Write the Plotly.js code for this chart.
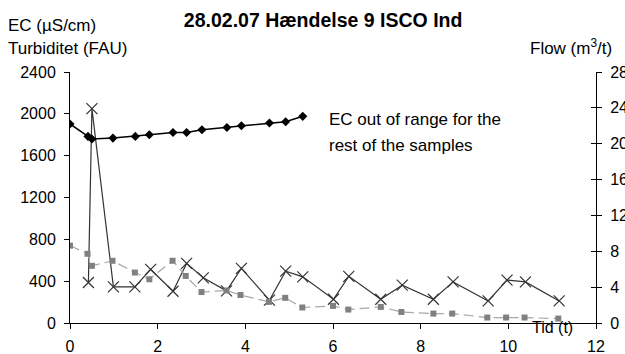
<!DOCTYPE html>
<html>
<head>
<meta charset="utf-8">
<script src="https://cdn.plot.ly/plotly-3.0.1.min.js"></script>
<style>html,body{margin:0;padding:0;background:#fff;}#chart{width:625px;height:354px;}</style>
</head>
<body>
<div id="chart"></div>
<script>
// EC (µS/cm), left axis
var ecTime = [0, 0.41, 0.5, 0.98, 1.49, 1.81, 2.35, 2.66, 3.01, 3.58, 3.91, 4.55, 4.92, 5.31];
var ecValues = [1903, 1784, 1759, 1768, 1784, 1800, 1822, 1822, 1848, 1870, 1886, 1912, 1925, 1976];

// Turbiditet (FAU), left axis
var turbTime = [0.42, 0.5, 0.99, 1.48, 1.84, 2.35, 2.66, 3.04, 3.57, 3.91, 4.55, 4.92, 5.31, 6.01, 6.36, 7.09, 7.58, 8.29, 8.74, 9.54, 9.97, 10.39, 11.16];
var turbValues = [387, 2050, 345, 345, 512, 304, 570, 432, 307, 522, 218, 496, 441, 227, 446, 227, 362, 227, 393, 211, 410, 393, 211];

// Flow (m3/t), right axis
var flowTime = [0, 0.40, 0.5, 0.97, 1.48, 1.81, 2.34, 2.64, 3.0, 3.57, 3.89, 4.54, 4.91, 5.30, 6.0, 6.35, 7.09, 7.56, 8.29, 8.72, 9.52, 9.95, 10.37, 11.14];
var flowValues = [8.63, 7.72, 6.38, 6.94, 5.63, 4.88, 6.94, 5.25, 3.45, 3.63, 3.12, 2.36, 2.81, 1.73, 1.91, 1.50, 1.79, 1.23, 1.05, 1.05, 0.61, 0.61, 0.61, 0.49];

var xTicks = [0, 2, 4, 6, 8, 10, 12];
var leftTicks = [0, 400, 800, 1200, 1600, 2000, 2400];
var rightTicks = [0, 4, 8, 12, 16, 20, 24, 28];

var FONT = '"Liberation Sans", Arial, sans-serif';

var traces = [
  {
    x: flowTime, y: flowValues, yaxis: 'y2', type: 'scatter', mode: 'lines+markers',
    line: {color: '#a8a8a8', width: 1.2, dash: '10px,5px'},
    marker: {symbol: 'square', size: 6, color: '#808080'},
    name: 'Flow', showlegend: false
  },
  {
    x: turbTime, y: turbValues, type: 'scatter', mode: 'lines+markers',
    line: {color: '#333333', width: 1.2},
    marker: {symbol: 'x-thin-open', size: 11, color: '#333333', line: {color: '#333333', width: 1.2}},
    name: 'Turbiditet', showlegend: false
  },
  {
    x: ecTime, y: ecValues, type: 'scatter', mode: 'lines+markers',
    line: {color: '#000000', width: 1.5},
    marker: {symbol: 'diamond', size: 7, color: '#000000'},
    name: 'EC', showlegend: false
  }
];

var layout = {
  width: 625, height: 354,
  margin: {l: 70, r: 29, t: 72, b: 31, pad: 0},
  paper_bgcolor: '#ffffff', plot_bgcolor: '#ffffff',
  font: {family: FONT, size: 16, color: '#000'},
  showlegend: false,
  title: {
    text: '<b>28.02.07 Hændelse 9 ISCO Ind</b>',
    font: {family: FONT, size: 19.5, color: '#000'},
    x: 0.517, xanchor: 'center', y: 0.9435, yanchor: 'middle'
  },
  xaxis: {
    range: [0, 12], tickvals: xTicks, ticktext: xTicks.map(String),
    ticks: 'outside', ticklen: 5, tickcolor: '#000', tickwidth: 1,
    ticklabelstandoff: 4,
    showline: true, linecolor: '#000', linewidth: 1,
    showgrid: false, zeroline: false,
    tickfont: {family: FONT, size: 16}
  },
  yaxis: {
    range: [0, 2400], tickvals: leftTicks, ticktext: leftTicks.map(String),
    ticks: 'outside', ticklen: 5, tickcolor: '#000', tickwidth: 1,
    ticklabelstandoff: 5,
    showline: true, linecolor: '#000', linewidth: 1,
    showgrid: false, zeroline: false,
    tickfont: {family: FONT, size: 16}
  },
  yaxis2: {
    range: [0, 28], tickvals: rightTicks, ticktext: rightTicks.map(String),
    overlaying: 'y', side: 'right',
    ticks: 'outside', ticklen: 5, tickcolor: '#000', tickwidth: 1,
    ticklabelstandoff: 5,
    showline: true, linecolor: '#000', linewidth: 1,
    showgrid: false, zeroline: false,
    tickfont: {family: FONT, size: 16}
  },
  yaxis3: {
    range: [0, 28], tickvals: rightTicks,
    overlaying: 'y', side: 'right',
    ticks: 'inside', ticklen: 5, tickcolor: '#000', tickwidth: 1,
    showticklabels: false, showline: false,
    showgrid: false, zeroline: false
  },
  annotations: [
    {text: 'EC (µS/cm)', xref: 'paper', yref: 'paper', x: -0.121, y: 1.187,
     xanchor: 'left', yanchor: 'middle', showarrow: false, font: {family: FONT, size: 17}},
    {text: 'Turbiditet (FAU)', xref: 'paper', yref: 'paper', x: -0.121, y: 1.092,
     xanchor: 'left', yanchor: 'middle', showarrow: false, font: {family: FONT, size: 17}},
    {text: 'Flow (m<sup>3</sup>/t)', xref: 'paper', yref: 'paper', x: 1.034, y: 1.10,
     xanchor: 'right', yanchor: 'middle', showarrow: false, font: {family: FONT, size: 17}},
    {text: 'EC out of range for the', xref: 'paper', yref: 'paper', x: 0.489, y: 0.809,
     xanchor: 'left', yanchor: 'middle', showarrow: false, font: {family: FONT, size: 17}},
    {text: 'rest of the samples', xref: 'paper', yref: 'paper', x: 0.489, y: 0.709,
     xanchor: 'left', yanchor: 'middle', showarrow: false, font: {family: FONT, size: 17}},
    {text: 'Tid (t)', xref: 'paper', yref: 'paper', x: 0.917, y: -0.016,
     xanchor: 'center', yanchor: 'middle', showarrow: false, font: {family: FONT, size: 16}}
  ]
};

// invisible trace to activate yaxis3 (cross ticks on the right axis)
traces.push({x: [0], y: [0], yaxis: 'y3', type: 'scatter', mode: 'markers',
  marker: {opacity: 0}, hoverinfo: 'skip', showlegend: false});

Plotly.newPlot('chart', traces, layout, {staticPlot: true, displayModeBar: false});
</script>
</body>
</html>
